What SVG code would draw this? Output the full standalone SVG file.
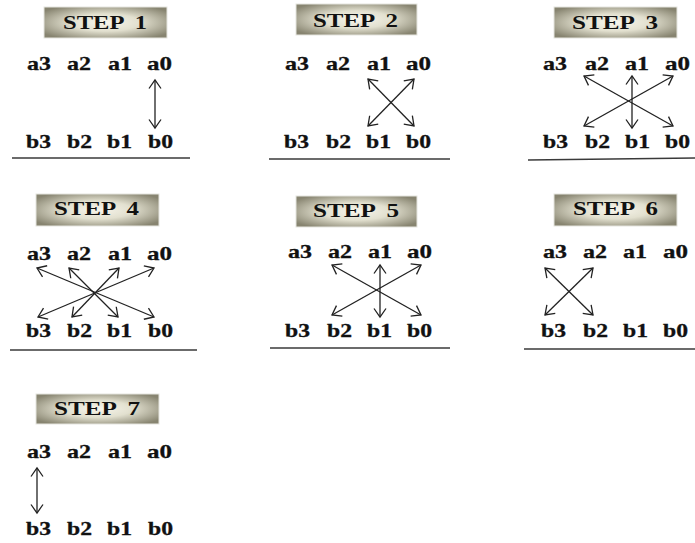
<svg xmlns="http://www.w3.org/2000/svg" width="695" height="543" viewBox="0 0 695 543">
<defs>
<radialGradient id="boxg" cx="50%" cy="50%" r="62%">
<stop offset="0" stop-color="#f7f5ec"/>
<stop offset="0.45" stop-color="#e2e0cf"/>
<stop offset="1" stop-color="#878470"/>
</radialGradient>
<marker id="ah" viewBox="-10 -7 12 14" refX="0" refY="0" markerWidth="12" markerHeight="14" markerUnits="userSpaceOnUse" orient="auto-start-reverse">
<path d="M-8.5,-6 L0,0 L-8.5,6" fill="none" stroke="#222" stroke-width="1.3"/>
</marker>
</defs>
<style>
.box{fill:url(#boxg);stroke:#e6e6e0;stroke-width:1}
.title{font-family:"Liberation Serif","Times New Roman",serif;font-weight:bold;font-size:18px;fill:#111;word-spacing:4px}
.lbl{font-family:"Liberation Serif","Times New Roman",serif;font-weight:bold;font-size:19px;fill:#111;stroke:#111;stroke-width:0.3}
.arr{stroke:#222;stroke-width:1.3;fill:none;marker-start:url(#ah);marker-end:url(#ah)}
.rule{stroke:#3a3a3a;stroke-width:1.5}
</style>
<rect width="695" height="543" fill="#fff"/>

<g id="step1">
<rect class="box" x="44" y="7" width="123" height="31"/>
<text class="title" x="63" y="29" textLength="84" lengthAdjust="spacingAndGlyphs">STEP 1</text>
<text class="lbl" x="27" y="70" textLength="24" lengthAdjust="spacingAndGlyphs">a3</text>
<text class="lbl" x="67" y="70" textLength="24" lengthAdjust="spacingAndGlyphs">a2</text>
<text class="lbl" x="108" y="70" textLength="24" lengthAdjust="spacingAndGlyphs">a1</text>
<text class="lbl" x="147" y="70" textLength="25" lengthAdjust="spacingAndGlyphs">a0</text>
<text class="lbl" x="26" y="148" textLength="25" lengthAdjust="spacingAndGlyphs">b3</text>
<text class="lbl" x="67" y="148" textLength="25" lengthAdjust="spacingAndGlyphs">b2</text>
<text class="lbl" x="107" y="148" textLength="25" lengthAdjust="spacingAndGlyphs">b1</text>
<text class="lbl" x="148" y="148" textLength="25" lengthAdjust="spacingAndGlyphs">b0</text>
<line class="rule" x1="12" y1="158" x2="190" y2="158"/>
</g>

<g id="step2">
<rect class="box" x="296" y="4" width="121" height="31"/>
<text class="title" x="313" y="27" textLength="85" lengthAdjust="spacingAndGlyphs">STEP 2</text>
<text class="lbl" x="285" y="70" textLength="24" lengthAdjust="spacingAndGlyphs">a3</text>
<text class="lbl" x="326" y="70" textLength="24" lengthAdjust="spacingAndGlyphs">a2</text>
<text class="lbl" x="367" y="70" textLength="24" lengthAdjust="spacingAndGlyphs">a1</text>
<text class="lbl" x="406" y="70" textLength="25" lengthAdjust="spacingAndGlyphs">a0</text>
<text class="lbl" x="284" y="148" textLength="25" lengthAdjust="spacingAndGlyphs">b3</text>
<text class="lbl" x="326" y="148" textLength="25" lengthAdjust="spacingAndGlyphs">b2</text>
<text class="lbl" x="366" y="148" textLength="25" lengthAdjust="spacingAndGlyphs">b1</text>
<text class="lbl" x="406" y="148" textLength="25" lengthAdjust="spacingAndGlyphs">b0</text>
<line class="rule" x1="269" y1="159" x2="450" y2="159"/>
</g>

<g id="step3">
<rect class="box" x="554" y="7" width="123" height="31"/>
<text class="title" x="572" y="29" textLength="86" lengthAdjust="spacingAndGlyphs">STEP 3</text>
<text class="lbl" x="543" y="70" textLength="24" lengthAdjust="spacingAndGlyphs">a3</text>
<text class="lbl" x="585" y="70" textLength="24" lengthAdjust="spacingAndGlyphs">a2</text>
<text class="lbl" x="625" y="70" textLength="24" lengthAdjust="spacingAndGlyphs">a1</text>
<text class="lbl" x="665" y="70" textLength="25" lengthAdjust="spacingAndGlyphs">a0</text>
<text class="lbl" x="543" y="148" textLength="25" lengthAdjust="spacingAndGlyphs">b3</text>
<text class="lbl" x="585" y="148" textLength="25" lengthAdjust="spacingAndGlyphs">b2</text>
<text class="lbl" x="625" y="148" textLength="25" lengthAdjust="spacingAndGlyphs">b1</text>
<text class="lbl" x="665" y="148" textLength="25" lengthAdjust="spacingAndGlyphs">b0</text>
<line class="rule" x1="528" y1="160" x2="695" y2="158"/>
</g>

<g id="step4">
<rect class="box" x="36" y="194" width="123" height="32"/>
<text class="title" x="54" y="215" textLength="85" lengthAdjust="spacingAndGlyphs">STEP 4</text>
<text class="lbl" x="27" y="260" textLength="24" lengthAdjust="spacingAndGlyphs">a3</text>
<text class="lbl" x="67" y="260" textLength="24" lengthAdjust="spacingAndGlyphs">a2</text>
<text class="lbl" x="108" y="260" textLength="24" lengthAdjust="spacingAndGlyphs">a1</text>
<text class="lbl" x="147" y="260" textLength="25" lengthAdjust="spacingAndGlyphs">a0</text>
<text class="lbl" x="26" y="337" textLength="25" lengthAdjust="spacingAndGlyphs">b3</text>
<text class="lbl" x="67" y="337" textLength="25" lengthAdjust="spacingAndGlyphs">b2</text>
<text class="lbl" x="107" y="337" textLength="25" lengthAdjust="spacingAndGlyphs">b1</text>
<text class="lbl" x="148" y="337" textLength="25" lengthAdjust="spacingAndGlyphs">b0</text>
<line class="rule" x1="10" y1="350" x2="197" y2="350"/>
</g>

<g id="step5">
<rect class="box" x="296" y="196" width="121" height="31"/>
<text class="title" x="313" y="217" textLength="86" lengthAdjust="spacingAndGlyphs">STEP 5</text>
<text class="lbl" x="288" y="258" textLength="24" lengthAdjust="spacingAndGlyphs">a3</text>
<text class="lbl" x="328" y="258" textLength="24" lengthAdjust="spacingAndGlyphs">a2</text>
<text class="lbl" x="368" y="258" textLength="24" lengthAdjust="spacingAndGlyphs">a1</text>
<text class="lbl" x="407" y="258" textLength="25" lengthAdjust="spacingAndGlyphs">a0</text>
<text class="lbl" x="285" y="337" textLength="25" lengthAdjust="spacingAndGlyphs">b3</text>
<text class="lbl" x="327" y="337" textLength="25" lengthAdjust="spacingAndGlyphs">b2</text>
<text class="lbl" x="367" y="337" textLength="25" lengthAdjust="spacingAndGlyphs">b1</text>
<text class="lbl" x="407" y="337" textLength="25" lengthAdjust="spacingAndGlyphs">b0</text>
<line class="rule" x1="270" y1="348" x2="450" y2="348"/>
</g>

<g id="step6">
<rect class="box" x="554" y="194" width="123" height="32"/>
<text class="title" x="573" y="215" textLength="85" lengthAdjust="spacingAndGlyphs">STEP 6</text>
<text class="lbl" x="543" y="258" textLength="24" lengthAdjust="spacingAndGlyphs">a3</text>
<text class="lbl" x="583" y="258" textLength="24" lengthAdjust="spacingAndGlyphs">a2</text>
<text class="lbl" x="623" y="258" textLength="24" lengthAdjust="spacingAndGlyphs">a1</text>
<text class="lbl" x="663" y="258" textLength="25" lengthAdjust="spacingAndGlyphs">a0</text>
<text class="lbl" x="541" y="337" textLength="25" lengthAdjust="spacingAndGlyphs">b3</text>
<text class="lbl" x="583" y="337" textLength="25" lengthAdjust="spacingAndGlyphs">b2</text>
<text class="lbl" x="623" y="337" textLength="25" lengthAdjust="spacingAndGlyphs">b1</text>
<text class="lbl" x="663" y="337" textLength="25" lengthAdjust="spacingAndGlyphs">b0</text>
<line class="rule" x1="524" y1="349" x2="695" y2="349"/>
</g>

<g id="step7">
<rect class="box" x="36" y="394" width="123" height="30"/>
<text class="title" x="54" y="415" textLength="86" lengthAdjust="spacingAndGlyphs">STEP 7</text>
<text class="lbl" x="27" y="458" textLength="24" lengthAdjust="spacingAndGlyphs">a3</text>
<text class="lbl" x="67" y="458" textLength="24" lengthAdjust="spacingAndGlyphs">a2</text>
<text class="lbl" x="108" y="458" textLength="24" lengthAdjust="spacingAndGlyphs">a1</text>
<text class="lbl" x="147" y="458" textLength="25" lengthAdjust="spacingAndGlyphs">a0</text>
<text class="lbl" x="26" y="535" textLength="25" lengthAdjust="spacingAndGlyphs">b3</text>
<text class="lbl" x="67" y="535" textLength="25" lengthAdjust="spacingAndGlyphs">b2</text>
<text class="lbl" x="107" y="535" textLength="25" lengthAdjust="spacingAndGlyphs">b1</text>
<text class="lbl" x="148" y="535" textLength="25" lengthAdjust="spacingAndGlyphs">b0</text>
</g>

<g id="connectors">
<line class="arr" x1="155" y1="80" x2="155" y2="128"/>
<line class="arr" x1="368" y1="79" x2="414" y2="126"/>
<line class="arr" x1="414" y1="79" x2="368" y2="126"/>
<line class="arr" x1="584" y1="76" x2="673" y2="126"/>
<line class="arr" x1="673" y1="76" x2="584" y2="126"/>
<line class="arr" x1="632" y1="76" x2="632" y2="128"/>
<line class="arr" x1="37" y1="268" x2="154" y2="317"/>
<line class="arr" x1="154" y1="268" x2="38" y2="317"/>
<line class="arr" x1="69" y1="268" x2="118" y2="317"/>
<line class="arr" x1="119" y1="268" x2="72" y2="317"/>
<line class="arr" x1="332" y1="265" x2="421" y2="315"/>
<line class="arr" x1="421" y1="265" x2="332" y2="315"/>
<line class="arr" x1="380" y1="265" x2="380" y2="317"/>
<line class="arr" x1="545" y1="268" x2="593" y2="315"/>
<line class="arr" x1="593" y1="268" x2="545" y2="315"/>
<line class="arr" x1="37" y1="468" x2="37" y2="513"/>
</g>
</svg>
